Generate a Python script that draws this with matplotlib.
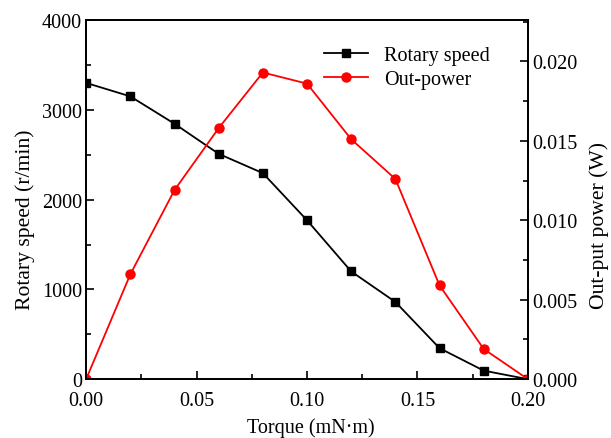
import matplotlib.pyplot as plt
from matplotlib.ticker import MultipleLocator

plt.rcParams['font.family'] = ['Liberation Serif', 'DejaVu Serif']

# torque (mN*m)
torque = [0.00, 0.02, 0.04, 0.06, 0.08, 0.10, 0.12, 0.14, 0.16, 0.18, 0.20]
# rotary speed (r/min)
speed = [3300, 3150, 2845, 2510, 2295, 1770, 1200, 860, 345, 95, 0]
# output power (W)
power = [0.0, 0.0066, 0.0119, 0.0158, 0.0193, 0.0186, 0.0151, 0.0126, 0.0059, 0.0019, 0.0]

fig = plt.figure(figsize=(6.11, 4.39), dpi=100)
ax = fig.add_axes([0.141, 0.134, 0.723, 0.818])
ax2 = ax.twinx()

l1, = ax.plot(torque, speed, color='black', marker='s', markersize=5.5, linewidth=1.3,
              label='Rotary speed')
l2, = ax2.plot(torque, power, color='red', marker='o', markersize=6.5, linewidth=1.3,
               label='Out-power')

ax.set_xlim(0, 0.20)
ax.set_ylim(0, 4000)
ax2.set_ylim(0, 0.0226)

ax.xaxis.set_major_locator(MultipleLocator(0.05))
ax.xaxis.set_minor_locator(MultipleLocator(0.025))
ax.yaxis.set_major_locator(MultipleLocator(1000))
ax.yaxis.set_minor_locator(MultipleLocator(500))
ax2.yaxis.set_major_locator(MultipleLocator(0.005))
ax2.yaxis.set_minor_locator(MultipleLocator(0.0025))

ax.xaxis.set_major_formatter(plt.FuncFormatter(lambda v, p: f"{v:.2f}"))
ax2.yaxis.set_major_formatter(plt.FuncFormatter(lambda v, p: f"{v:.3f}"))

for a in (ax, ax2):
    a.tick_params(which='major', direction='in', length=6, width=1.2, labelsize=14.5)
    a.tick_params(which='minor', direction='in', length=3.5, width=1.2)
    for s in a.spines.values():
        s.set_linewidth(1.3)
ax.tick_params(axis='x', which='both', top=False, pad=8.5)
ax.tick_params(axis='y', which='both', right=False, pad=3)
ax2.tick_params(axis='y', pad=3)

ax.set_xlabel('Torque (mN·m)', fontsize=14.5)
ax.set_ylabel('Rotary speed (r/min)', fontsize=15.6)
ax2.set_ylabel('Out-put power (W)', fontsize=15.6)
ax.xaxis.set_label_coords(0.509, -0.106)
ax.yaxis.set_label_coords(-0.115, 0.448)
ax2.yaxis.set_label_coords(1.138, 0.43)

ax.legend(handles=[l1, l2], loc='upper right', bbox_to_anchor=(0.955, 0.978),
          frameon=False, fontsize=14.5, handlelength=2.2, labelspacing=0.25,
          handletextpad=0.8)

fig.savefig('out.png', dpi=100)
